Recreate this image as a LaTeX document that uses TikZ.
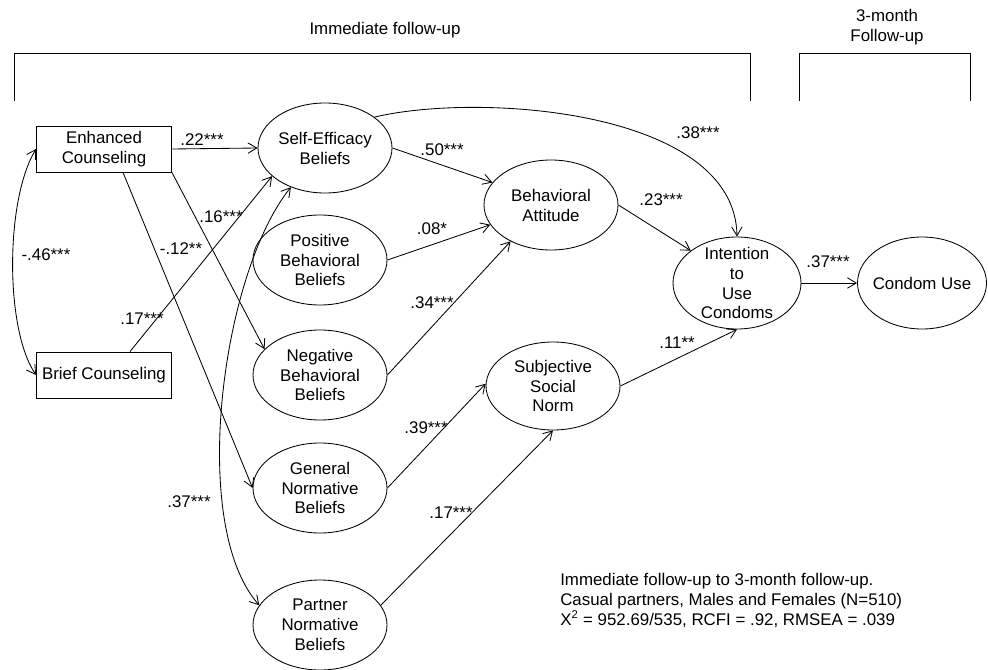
\documentclass[tikz,border=0pt]{standalone}
\usepackage{fontspec}
\setmainfont{Liberation Sans}
\usetikzlibrary{arrows.meta,shapes.geometric}

\begin{document}
\begin{tikzpicture}[
    x=0.25mm, y=-0.25mm,
    >={Straight Barb[length=2.2mm,width=2.6mm]},
    every node/.style={font=\fontsize{12}{14.2}\selectfont},
    observed/.style={
        rectangle,
        draw,
        line width=0.6pt,
        minimum width=33.75mm,
        minimum height=11.5mm,
        align=center,
        inner sep=1pt
    },
    construct/.style={
        ellipse,
        draw,
        line width=0.6pt,
        minimum width=33.5mm,
        minimum height=22.5mm,
        align=center,
        inner xsep=-1mm,
        inner ysep=-1mm
    },
    link/.style={->, line width=0.6pt},
    covar/.style={<->, line width=0.6pt},
    coef/.style={inner sep=0pt},
    bracket/.style={line width=0.6pt}
]
\useasboundingbox (0,0) rectangle (988,670);

% Time brackets
\draw[bracket] (14,101) |- (750,53) -- (750,101);
\draw[bracket] (799,101) |- (970,53) -- (970,101);
\node[coef] (t1) at (385,30) {Immediate follow-up};
\node[coef, align=center] (t2) at (887,27) {3-month\\Follow-up};

% Observed conditions
\node[observed] (enh)   at (104,149) {Enhanced\\Counseling};
\node[observed] (brief) at (104,375) {Brief Counseling};

% Beliefs
\node[construct] (se)  at (325,148) {Self-Efficacy\\Beliefs};
\node[construct] (pos) at (320,260) {Positive\\Behavioral\\Beliefs};
\node[construct] (neg) at (320,375) {Negative\\Behavioral\\Beliefs};
\node[construct] (gen) at (320,488) {General\\Normative\\Beliefs};
\node[construct] (ptn) at (320,625) {Partner\\Normative\\Beliefs};

% Attitude, norm, intention, outcome
\node[construct] (att) at (551,205) {Behavioral\\Attitude};
\node[construct, minimum height=22mm] (ssn) at (553,386) {Subjective\\Social\\Norm};
\node[construct, minimum width=32mm, minimum height=23mm, inner ysep=-2.5mm] (int) at (737,283) {Intention\\to\\Use\\Condoms};
\node[construct, minimum width=32.25mm, minimum height=23mm] (cu) at (922,283) {Condom Use};

% Paths from conditions
\draw[link] (enh.east) -- (se.west);
\draw[link] (enh.south east) -- (neg.155);
\draw[link] ([xshift=4.75mm]enh.south) -- (gen.west);
\draw[link] ([xshift=6.5mm]brief.north) -- (se.208);
\draw[covar] (enh.west) .. controls (5,200) and (5,330) .. (brief.west);

% Paths to attitude and norm
\draw[link] (se.east) -- (att.159);
\draw[link] (pos.east) -- (att.198);
\draw[link] (neg.east) -- (att.222);
\draw[link] (gen.east) -- (ssn.178);
\draw[link] (ptn.18) -- (ssn.south);
\draw[covar] (se.229) .. controls (222,272) and (188,525) .. (ptn.162);

% Paths to intention and use
\draw[link] (se.32) .. controls (480,92) and (735,110) .. (int.north);
\draw[link] (att.east) -- (int.145);
\draw[link] (ssn.east) -- (int.south);
\draw[link] (int.east) -- (cu.west);

% Coefficients
\node[coef] (c1)  at (202,140) {.22***};
\node[coef] (c2)  at (221,217) {.16***};
\node[coef] (c3)  at (181,249) {-.12**};
\node[coef] (c4)  at (142,319) {.17***};
\node[coef] (c5)  at (46,255)  {-.46***};
\node[coef] (c6)  at (442,150) {.50***};
\node[coef] (c7)  at (432,229) {.08*};
\node[coef] (c8)  at (432,303) {.34***};
\node[coef] (c9)  at (661,200) {.23***};
\node[coef] (c10) at (698,133) {.38***};
\node[coef] (c11) at (828,262) {.37***};
\node[coef] (c12) at (677,343) {.11**};
\node[coef] (c13) at (426,428) {.39***};
\node[coef] (c14) at (451,513) {.17***};
\node[coef] (c15) at (189,502) {.37***};

% Model note
\node[coef, anchor=west, align=left] (note) at (560,600) {Immediate follow-up to 3-month follow-up.\\Casual partners, Males and Females (N=510)\\X\textsuperscript{2} = 952.69/535, RCFI = .92, RMSEA = .039};

\end{tikzpicture}
\end{document}
